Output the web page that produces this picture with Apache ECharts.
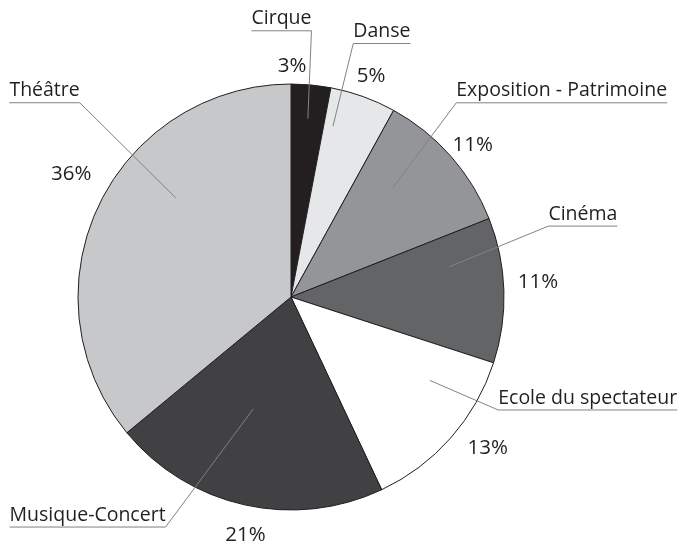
<!DOCTYPE html>
<html lang="fr">
<head>
<meta charset="UTF-8">
<title>Répartition</title>
<script src="https://cdn.jsdelivr.net/npm/echarts@6/dist/echarts.min.js"></script>
<style>
  html, body { margin: 0; padding: 0; background: #fff; }
</style>
</head>
<body>
<div id="main" style="width:684px;height:544px;"></div>
<script>
  // données
  var categories = ['Cirque', 'Danse', 'Exposition - Patrimoine', 'Cinéma', 'Ecole du spectateur', 'Musique-Concert', 'Théâtre'];
  var shares = [3, 5, 11, 11, 13, 21, 36];

  // styles
  var sliceColors = ['#231f20', '#e6e7e8', '#939598', '#636466', '#ffffff', '#414042', '#c7c8ca'];
  var CX = 291, CY = 297, R = 213;
  var FONT = '"Open Sans", "Noto Sans", sans-serif';

  // trait de rappel : décalage d'angle (degrés) et rayon au départ (0) et au coude (1)
  var leaderStyle = [
    { a0: 0, r0: 179, a1: -1, r1: 267 },
    { a0: -6, r0: 176, a1: -6, r1: 261 },
    { a0: -5.6, r0: 149, a1: -8.2, r1: 255 },
    { a0: -9, r0: 161, a1: -13.6, r1: 267 },
    { a0: -10.4, r0: 162, a1: -12.8, r1: 236 },
    { a0: 6, r0: 118, a1: 16, r1: 262 },
    { a0: 15.5, r0: 152, a1: 17.4, r1: 287 }
  ];
  // petits décalages des pourcentages
  var pctNudge = [[-22, 13], [-3, 10], [-2, 10], [2, -7], [13, -11], [8, -1], [2, -19]];

  function polar(deg, r) {
    var t = deg * Math.PI / 180;
    return [CX + r * Math.sin(t), CY - r * Math.cos(t)];
  }

  var myChart = echarts.init(document.getElementById('main'));

  var pieData = categories.map(function (name, i) {
    return { name: name, value: shares[i], itemStyle: { color: sliceColors[i] } };
  });
  var ghostData = categories.map(function (name, i) {
    return { name: name, value: shares[i] };
  });

  var option = {
    animation: false,
    backgroundColor: '#fff',
    series: [{
      // les parts
      type: 'pie',
      center: [CX, CY],
      radius: R,
      startAngle: 90,
      clockwise: true,
      silent: true,
      z: 2,
      label: { show: false },
      labelLine: { show: false },
      itemStyle: { borderColor: '#231f20', borderWidth: 1 },
      data: pieData
    }, {
      // noms avec traits de rappel
      type: 'pie',
      center: [CX, CY],
      radius: 155,
      startAngle: 90,
      clockwise: true,
      silent: true,
      z: 4,
      avoidLabelOverlap: false,
      itemStyle: { color: 'transparent' },
      label: {
        show: true,
        position: 'outside',
        formatter: '{b}',
        fontFamily: FONT,
        fontSize: 19.5,
        color: '#231f20'
      },
      labelLine: {
        show: true,
        length: 100,
        length2: 0,
        lineStyle: { color: '#808285', width: 1 }
      },
      labelLayout: function (params) {
        var pts = params.labelLinePoints;
        if (!pts) return;
        var mid = Math.atan2(pts[0][0] - CX, CY - pts[0][1]) * 180 / Math.PI;
        var s = leaderStyle[params.dataIndex];
        var start = polar(mid + s.a0, s.r0);
        var bend = polar(mid + s.a1, s.r1);
        var w = params.labelRect.width;
        var toLeft = bend[0] < CX + 30;
        var endX = toLeft ? bend[0] - w : bend[0] + w;
        return {
          x: toLeft ? endX : bend[0],
          y: bend[1] - 2,
          align: 'left',
          verticalAlign: 'bottom',
          labelLinePoints: [start, bend, [endX, bend[1]]]
        };
      },
      data: ghostData
    }, {
      // pourcentages
      type: 'pie',
      center: [CX, CY],
      radius: [222, 262],
      startAngle: 90,
      clockwise: true,
      silent: true,
      z: 3,
      itemStyle: { color: 'transparent' },
      label: {
        show: true,
        position: 'inside',
        formatter: '{c}%',
        fontFamily: FONT,
        fontSize: 20.5,
        color: '#231f20',
        textBorderWidth: 0
      },
      labelLine: { show: false },
      labelLayout: function (params) {
        var n = pctNudge[params.dataIndex];
        return { dx: n[0], dy: n[1] };
      },
      data: ghostData
    }]
  };

  myChart.setOption(option);
</script>
</body>
</html>
